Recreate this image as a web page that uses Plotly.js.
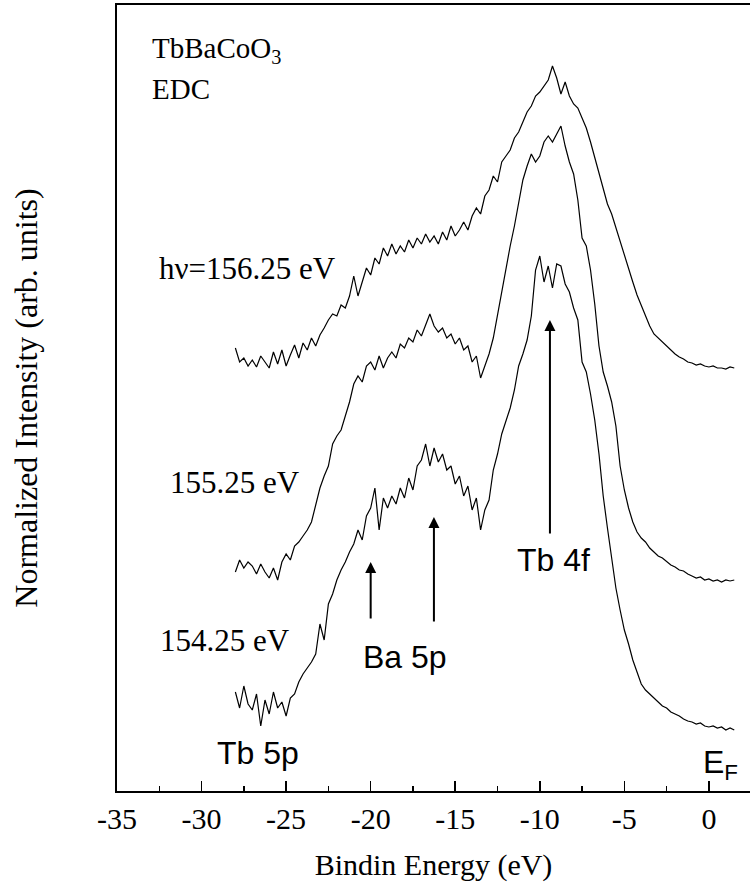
<!DOCTYPE html>
<html>
<head>
<meta charset="utf-8">
<script src="https://cdn.plot.ly/plotly-3.0.1.min.js"></script>
<style>html,body{margin:0;padding:0;background:#fff;}#chart{width:750px;height:886px;}</style>
</head>
<body>
<div id="chart"></div>
<script>
// Binding energy grid (eV)
const energy = [
-28.00,-27.75,-27.50,-27.25,-27.00,-26.75,-26.50,-26.25,-26.00,-25.75,-25.50,-25.25,-25.00,-24.75,-24.50,-24.25,
-24.00,-23.75,-23.50,-23.25,-23.00,-22.75,-22.50,-22.25,-22.00,-21.75,-21.50,-21.25,-21.00,-20.75,-20.50,-20.25,
-20.00,-19.75,-19.50,-19.25,-19.00,-18.75,-18.50,-18.25,-18.00,-17.75,-17.50,-17.25,-17.00,-16.75,-16.50,-16.25,
-16.00,-15.75,-15.50,-15.25,-15.00,-14.75,-14.50,-14.25,-14.00,-13.75,-13.50,-13.25,-13.00,-12.75,-12.50,-12.25,
-12.00,-11.75,-11.50,-11.25,-11.00,-10.75,-10.50,-10.25,-10.00,-9.75,-9.50,-9.25,-9.00,-8.75,-8.50,-8.25,
-8.00,-7.75,-7.50,-7.25,-7.00,-6.75,-6.50,-6.25,-6.00,-5.75,-5.50,-5.25,-5.00,-4.75,-4.50,-4.25,
-4.00,-3.75,-3.50,-3.25,-3.00,-2.75,-2.50,-2.25,-2.00,-1.75,-1.50,-1.25,-1.00,-0.75,-0.50,-0.25,
0.00,0.25,0.50,0.75,1.00,1.25,1.50
];

// hv = 156.25 eV (top, offset spectrum)
const edc156 = [
418,404,408,400,406,399,410,404,398,414,402,416,400,411,421,408,
423,416,428,420,431,438,446,452,450,461,458,470,490,470,484,498,
491,508,502,518,510,522,512,520,514,526,518,528,522,532,524,530,
522,534,526,540,530,536,544,536,550,558,552,570,576,590,584,604,
610,616,628,634,644,654,660,670,674,680,686,700,688,672,684,670,
662,658,648,638,624,608,594,576,562,552,538,526,511,498,484,471,
460,450,440,432,428,423,419,415,412,409,407,404,403,401,402,400,
399,400,398,398,397,399,398
];

// hv = 155.25 eV (middle)
const edc155 = [
194,206,198,204,200,192,202,194,188,198,186,204,212,206,220,224,
230,236,244,262,278,290,300,322,330,336,350,364,382,390,384,400,
404,396,410,398,408,414,408,422,418,428,424,436,430,442,452,440,
434,438,428,432,422,428,416,420,404,410,388,400,412,428,452,476,
500,520,540,562,586,600,612,604,610,624,630,624,632,640,620,604,
592,566,528,520,496,462,420,394,380,364,340,300,276,258,244,234,
228,224,218,214,210,208,204,201,199,196,195,192,190,188,189,186,
187,185,186,184,186,185,186
];

// hv = 154.25 eV (bottom)
const edc154 = [
74,58,80,62,56,72,40,66,52,74,58,64,50,68,72,84,
92,98,104,112,142,126,162,172,186,196,204,214,222,236,226,250,
258,278,236,268,258,270,262,278,268,288,276,300,306,322,300,318,
304,312,296,300,282,290,270,280,256,268,236,256,266,296,312,332,
346,358,376,400,412,426,450,496,510,484,500,478,502,500,482,474,
458,446,404,394,372,346,312,270,238,206,178,156,136,122,106,94,
82,76,72,68,64,60,58,54,52,50,47,45,44,42,43,40,
39,40,38,39,36,38,36
];

const seriesNames = ['hν=156.25 eV', '155.25 eV', '154.25 eV'];
const xTickVals = [-35,-30,-25,-20,-15,-10,-5,0];
const xTickText = ['-35','-30','-25','-20','-15','-10','-5','0'];

const serif = 'Liberation Serif';
const sans = 'Liberation Sans';

const traces = [edc156, edc155, edc154].map((ys, i) => ({
  type: 'scatter', mode: 'lines', x: energy, y: ys, name: seriesNames[i],
  line: {color: '#000', width: 1.2}, showlegend: false, hoverinfo: 'x+y+name'
}));

function label(text, x, y, font, size, xanchor) {
  return {text: text, x: x, y: y, xref: 'x', yref: 'y', showarrow: false,
    xanchor: xanchor || 'center', yanchor: 'middle',
    font: {family: font, size: size, color: '#000'}};
}
function arrow(x, yTip, yTail) {
  return {text: '', x: x, y: yTip, ax: x, ay: yTail, xref: 'x', yref: 'y',
    axref: 'x', ayref: 'y', showarrow: true, arrowhead: 2, arrowsize: 1.1,
    arrowwidth: 2, arrowcolor: '#000', standoff: 0, startstandoff: 0};
}

const layout = {
  width: 750, height: 886,
  margin: {l: 117, r: 0, t: 5, b: 95},
  paper_bgcolor: '#fff', plot_bgcolor: '#fff',
  font: {family: serif, color: '#000'},
  showlegend: false,
  xaxis: {
    range: [-35, 2.43], tickvals: xTickVals, ticktext: xTickText,
    ticks: 'inside', ticklen: 10, tickwidth: 1.5, tickcolor: '#000',
    minor: {dtick: 2.5, tick0: -35, ticks: 'inside', ticklen: 5, tickwidth: 1.5, tickcolor: '#000'},
    showline: true, linewidth: 2, linecolor: '#000', mirror: true,
    showgrid: false, zeroline: false,
    tickfont: {family: serif, size: 30, color: '#000'},
    title: {text: 'Bindin Energy (eV)', font: {family: serif, size: 30, color: '#000'}, standoff: 20}
  },
  yaxis: {
    range: [-25, 761], showline: true, linewidth: 2, linecolor: '#000', mirror: false,
    showticklabels: false, ticks: '', showgrid: false, zeroline: false,
    title: {text: 'Normalized Intensity (arb. units)', font: {family: serif, size: 32, color: '#000'}, standoff: 68}
  },
  annotations: [
    label('TbBaCoO<sub>3</sub>', -33.06, 716, serif, 29, 'left'),
    label('EDC', -33.06, 677, serif, 29, 'left'),
    label('hν=156.25 eV', -21.94, 498, serif, 31, 'right'),
    label('155.25 eV', -24.07, 284, serif, 31, 'right'),
    label('154.25 eV', -24.66, 126, serif, 31, 'right'),
    label('Tb 5p', -26.67, 13, sans, 32),
    label('Ba 5p', -17.98, 109, sans, 32),
    label('Tb 4f', -9.17, 206, sans, 32),
    label('E<sub>F</sub>', 0.7, 2, sans, 32),
    arrow(-9.4, 446, 231),
    arrow(-20.0, 204, 146),
    arrow(-16.26, 249, 143)
  ]
};

Plotly.newPlot('chart', traces, layout, {displayModeBar: false, staticPlot: true});
</script>
</body>
</html>
